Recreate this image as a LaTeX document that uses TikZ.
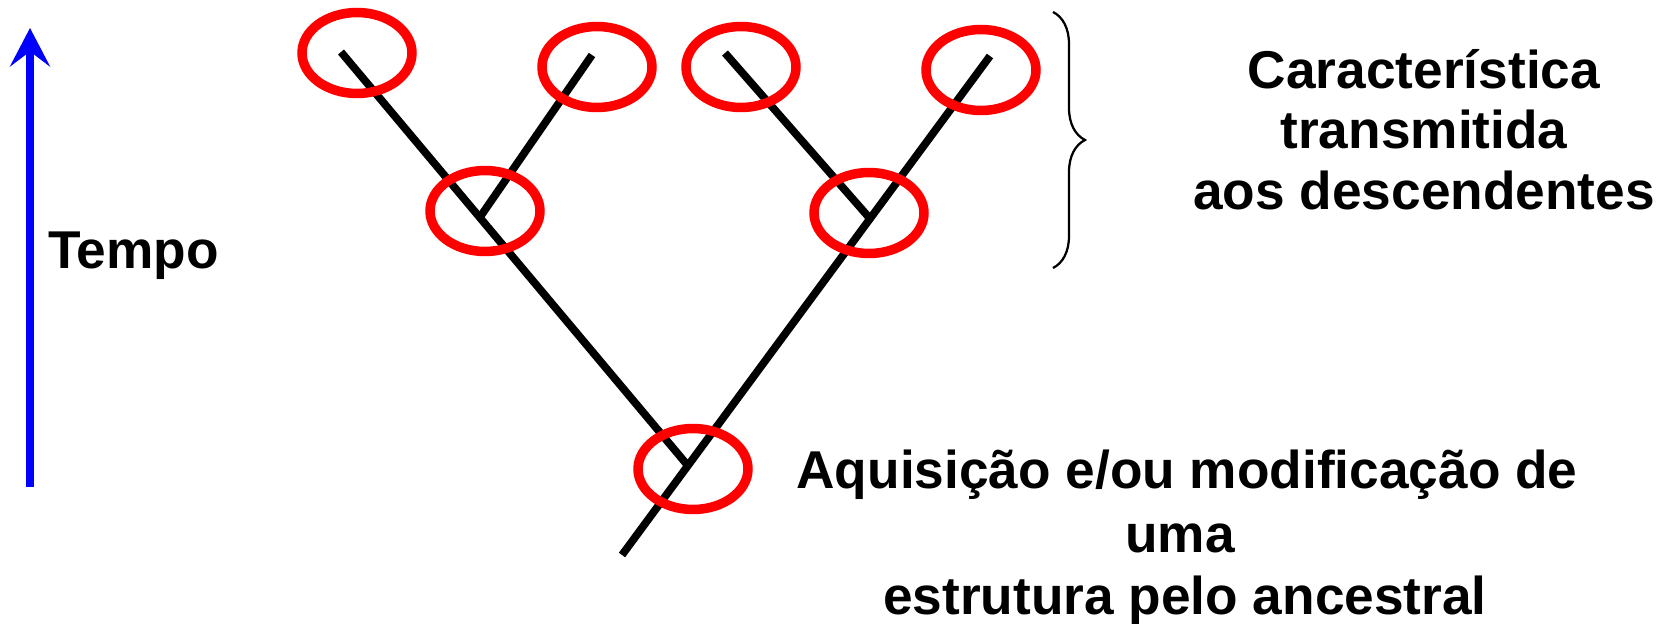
\documentclass[tikz,border=0pt]{standalone}
\usepackage{fontspec}
\setmainfont{Liberation Sans}
\usetikzlibrary{shapes,arrows.meta,calc,decorations.pathreplacing}

\begin{document}
\begin{tikzpicture}[x=0.02cm, y=-0.02cm,
   branch/.style={black, line width=0.155cm},
   ring/.style={ellipse, draw=red, line width=0.19cm, minimum width=2.2cm, minimum height=1.62cm, inner sep=0pt},
   tempo/.style={blue, line width=0.17cm, -{Stealth[length=0.77cm, width=0.8cm, inset=0.3cm]}},
   bigtext/.style={inner sep=0pt, font=\bfseries\fontsize{30.3pt}{34pt}\selectfont}]

 \useasboundingbox (0,0) rectangle (1664,624);

% tree
\coordinate (base) at (622,555);
\coordinate (leafd) at (990,56);
\coordinate (leafa) at (341,52);
\coordinate (leafb) at (592,55);
\coordinate (leafc) at (725,53);
\coordinate (root) at ($(base)!0.179!(leafd)$);
\coordinate (jleft) at ($(root)!0.6!(leafa)$);
\coordinate (jright) at ($(base)!0.674!(leafd)$);

\draw [branch] (base) -- (leafd);
\draw [branch] (root) -- (leafa);
\draw [branch] (jleft) -- (leafb);
\draw [branch] (jright) -- (leafc);


   \node at (357,53) [ring] (ra) {};
   \node at (597,67) [ring] (rb) {};
   \node at (741,67) [ring] (rc) {};
   \node at (981,70) [ring] (rd) {};
   \node at (485,211) [ring] (rl) {};
   \node at (869,213) [ring] (rr) {};
   \node at (693,469) [ring] (rroot) {};

% time axis
\coordinate (tbot) at (30,487);
\coordinate (ttop) at (30,28);
\draw [tempo] (tbot) -- (ttop);
\node at (48,269) [bigtext, anchor=base west] (tempolabel) {Tempo};

% brace and texts
\coordinate (btop) at (1053,12);
\coordinate (bbot) at (1053,268);
\draw [decorate, decoration={brace, amplitude=0.64cm}, line width=0.045cm] (btop) -- (bbot);

\node at (1424,89) [bigtext, anchor=base] (cara) {Característica};
\node at (1424,149) [bigtext, anchor=base] (trans) {transmitida};
\node at (1424,210) [bigtext, anchor=base] (desc) {aos descendentes};

\node at (1187,489) [bigtext, anchor=base] (aqui) {Aquisição e/ou modificação de};
\node at (1180,553) [bigtext, anchor=base] (uma) {uma};
\node at (1185,615) [bigtext, anchor=base] (estr) {estrutura pelo ancestral};

    \end{tikzpicture}
\end{document}
